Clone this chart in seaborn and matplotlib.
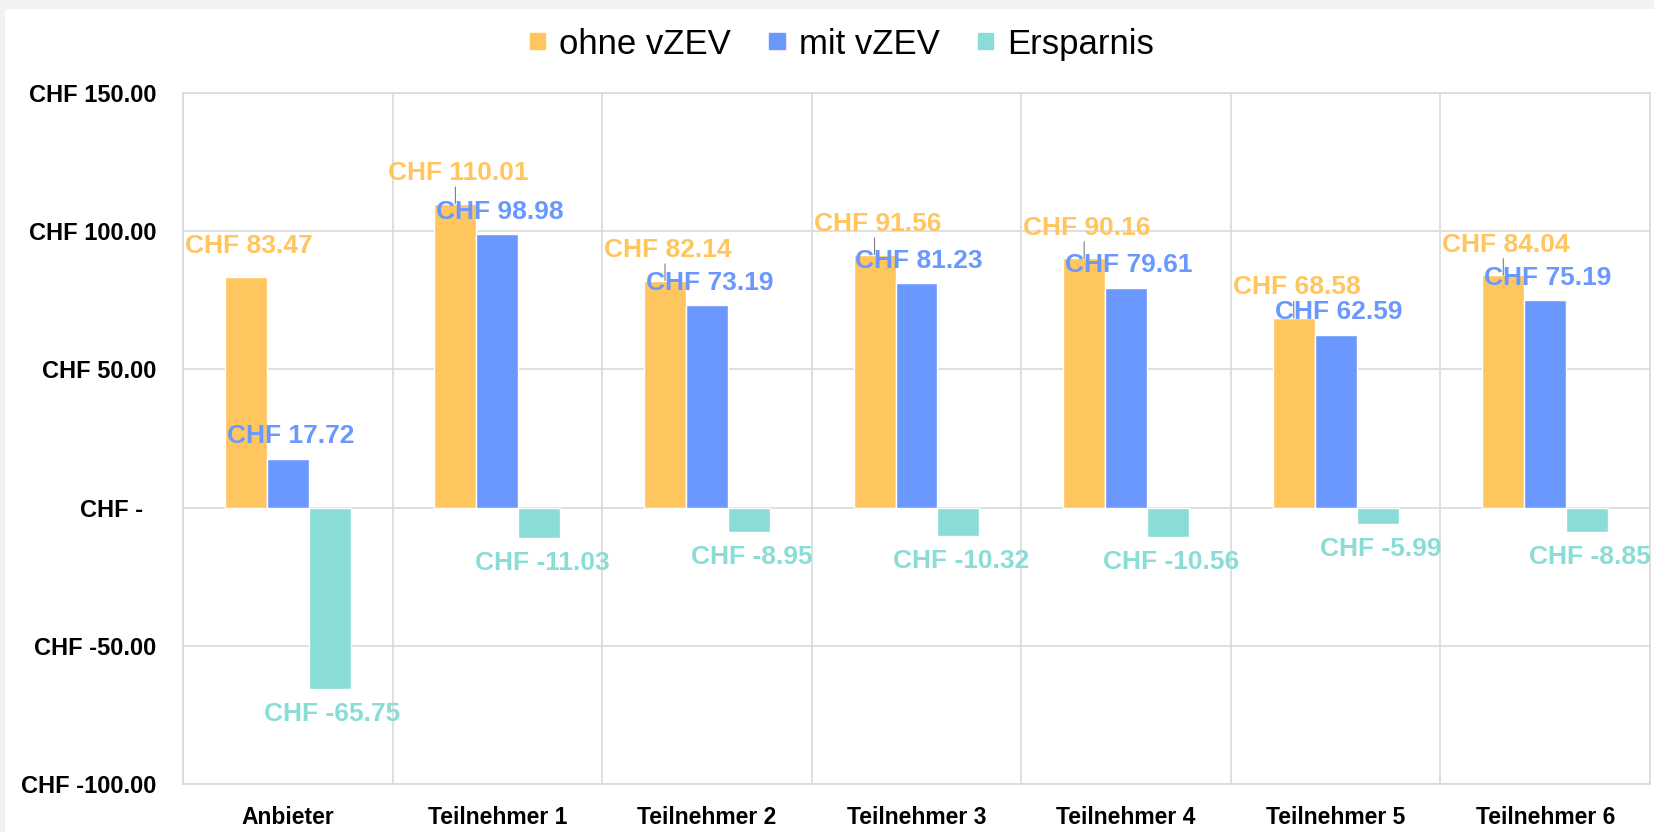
import pandas as pd
import matplotlib.pyplot as plt
import seaborn as sns
from matplotlib.patches import Rectangle, Patch
from matplotlib.ticker import FuncFormatter, FixedLocator

# Daten
teilnehmer = ["Anbieter", "Teilnehmer 1", "Teilnehmer 2", "Teilnehmer 3",
              "Teilnehmer 4", "Teilnehmer 5", "Teilnehmer 6"]
ohne_vzev = [83.47, 110.01, 82.14, 91.56, 90.16, 68.58, 84.04]
mit_vzev = [17.72, 98.98, 73.19, 81.23, 79.61, 62.59, 75.19]
ersparnis = [-65.75, -11.03, -8.95, -10.32, -10.56, -5.99, -8.85]
serien = ["ohne vZEV", "mit vZEV", "Ersparnis"]
farben = ["#FFC55F", "#6A98FF", "#8ADDD6"]

df = pd.DataFrame({
    "Teilnehmer": teilnehmer * 3,
    "Serie": [serien[0]] * 7 + [serien[1]] * 7 + [serien[2]] * 7,
    "Wert": ohne_vzev + mit_vzev + ersparnis,
})

sns.set_style("white")
plt.rcParams["font.family"] = ["Liberation Sans", "DejaVu Sans"]
plt.rcParams["text.color"] = "black"

fig = plt.figure(figsize=(16.54, 8.32), dpi=100, facecolor="#F2F2F2")
fig.patches.append(Rectangle((0.003, 0), 1, 1 - 9 / 832, transform=fig.transFigure,
                             facecolor="white", edgecolor="none", zorder=-5))
ax = fig.add_axes([0.1106, 0.0577, 0.887, 0.8305])
ax.set_zorder(2)
ax.set_facecolor("white")

sns.barplot(data=df, x="Teilnehmer", y="Wert", hue="Serie", hue_order=serien,
            palette=farben, width=0.6, saturation=1, legend=False, ax=ax, zorder=3)

ax.set_ylim(-100, 150)
ax.set_xlim(-0.5, 6.5)
ax.set_yticks([-100, -50, 0, 50, 100, 150])
ax.yaxis.set_major_formatter(FuncFormatter(
    lambda v, p: "CHF -  " if v == 0 else f"CHF {v:.2f}"))
ax.xaxis.set_minor_locator(FixedLocator([i - 0.5 for i in range(8)]))
ax.grid(axis="y", color="#D9D9D9", lw=1.2, zorder=0)
ax.grid(axis="x", which="minor", color="#D9D9D9", lw=1.2, zorder=0)
for s in ax.spines.values():
    s.set_color("#D9D9D9")
    s.set_linewidth(1.2)
ax.set_xlabel("")
ax.set_ylabel("")
ax.tick_params(axis="y", length=0, pad=19, labelsize=17, labelcolor="black")
ax.tick_params(axis="x", which="both", length=0, pad=16, labelsize=16.5, labelcolor="black")
for t in ax.get_xticklabels() + ax.get_yticklabels():
    t.set_fontweight("bold")

# Beschriftungen der Balken
versatz = [22, 16, -18]
for k, (cont, farbe, dy) in enumerate(zip(ax.containers, farben, versatz)):
    for i, bar in enumerate(cont):
        h = bar.get_height()
        x = bar.get_x() + bar.get_width() / 2
        ax.annotate(f"CHF {h:.2f}", (x, h), xytext=(2, dy), textcoords="offset points",
                    ha="center", va="center", color=farbe, fontsize=19,
                    fontweight="bold", zorder=5)
        # kleine Fuehrungslinien wie im Original
        if k == 0 and i > 0:
            ax.annotate("", xy=(x, h), xytext=(0, 12), textcoords="offset points",
                        arrowprops=dict(arrowstyle="-", color="#7F7F7F", lw=0.8,
                                        shrinkA=0, shrinkB=0), zorder=4)

handles = [Patch(color=c, label=s) for s, c in zip(serien, farben)]
fig.legend(handles=handles, loc="center", bbox_to_anchor=(0.509, 0.947), ncol=3,
           frameon=False, fontsize=25, handlelength=0.45, handleheight=0.3,
           handletextpad=0.4, columnspacing=1.1, labelcolor="black")

fig.savefig("out.png", dpi=100, facecolor=fig.get_facecolor())
